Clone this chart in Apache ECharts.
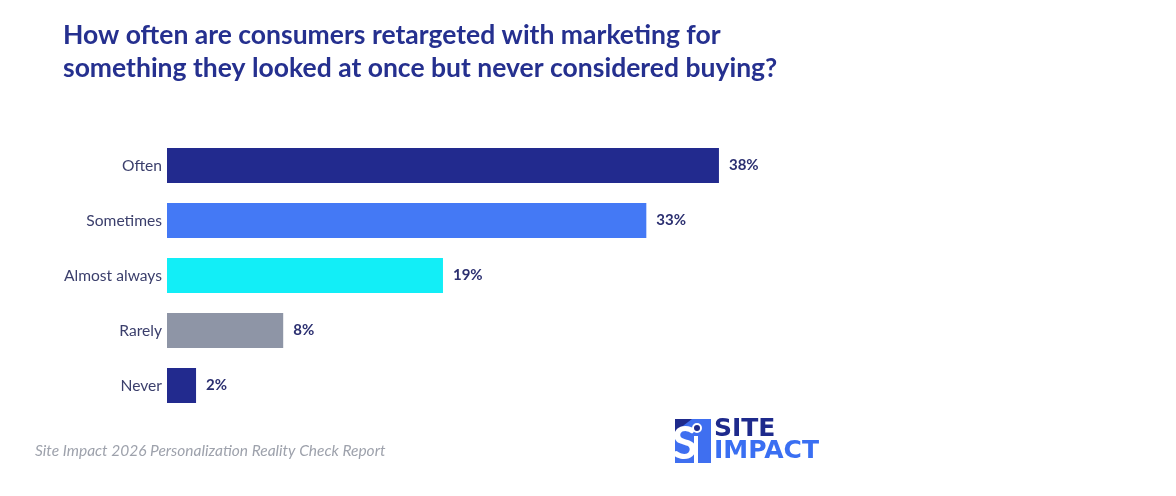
<!DOCTYPE html>
<html>
<head>
<meta charset="utf-8">
<script src="https://cdn.jsdelivr.net/npm/echarts@6/dist/echarts.min.js"></script>
<style>
  html, body { margin: 0; padding: 0; background: #fff; }
  #chart { width: 1176px; height: 496px; }
</style>
</head>
<body>
<div id="chart"></div>
<script>
var categories = ['Often', 'Sometimes', 'Almost always', 'Rarely', 'Never'];
var values = [38, 33, 19, 8, 2];
var barColors = ['#222a8e', '#4479f5', '#12eef7', '#8e95a6', '#222a8e'];

var chart = echarts.init(document.getElementById('chart'));

var option = {
  backgroundColor: '#ffffff',
  title: {
    text: 'How often are consumers retargeted with marketing for\nsomething they looked at once but never considered buying?',
    left: 63,
    top: 19,
    padding: 0,
    textStyle: {
      fontFamily: 'Lato',
      fontWeight: 'bold',
      fontSize: 26.5,
      lineHeight: 33,
      color: '#25308f'
    }
  },
  grid: {
    left: 167,
    right: 428,
    top: 138,
    height: 275
  },
  xAxis: {
    type: 'value',
    min: 0,
    max: 40,
    show: false
  },
  yAxis: {
    type: 'category',
    inverse: true,
    data: categories,
    axisLine: { show: false },
    axisTick: { show: false },
    axisLabel: {
      margin: 5,
      fontFamily: 'Lato',
      fontSize: 15.6,
      color: '#3b3f6c'
    }
  },
  series: [{
    type: 'bar',
    barWidth: 35,
    data: values.map(function (v, i) {
      return { value: v, itemStyle: { color: barColors[i] } };
    }),
    label: {
      show: true,
      position: 'right',
      distance: 10,
      formatter: '{c}%',
      fontFamily: 'Lato',
      fontWeight: 'bold',
      fontSize: 15,
      color: '#2b2f70'
    }
  }],
  graphic: [
    {
      type: 'text',
      left: 35,
      top: 443,
      style: {
        text: 'Site Impact 2026 Personalization Reality Check Report',
        font: 'italic 15.5px Lato',
        fill: '#9ea2ac'
      }
    },
    // logo icon
    {
      type: 'rect',
      shape: { x: 675, y: 419, width: 36, height: 44 },
      style: { fill: '#3f6ff0' }
    },
    {
      type: 'polygon',
      shape: { points: [[675, 419], [692, 419], [675, 432]] },
      style: { fill: '#1e2a8c' }
    },
    {
      type: 'text',
      left: 672,
      top: 421,
      style: {
        text: 'S',
        font: 'bold 46px Lato',
        fill: '#ffffff'
      }
    },
    {
      type: 'rect',
      shape: { x: 694, y: 436, width: 4, height: 27 },
      style: { fill: '#ffffff' }
    },
    {
      type: 'circle',
      shape: { cx: 697, cy: 428, r: 4 },
      style: { fill: '#1e2a8c', stroke: '#ffffff', lineWidth: 2 }
    },
    {
      type: 'text',
      left: 714,
      top: 417,
      style: {
        text: 'SITE',
        font: 'bold 25px "DejaVu Sans"',
        fill: '#1e2a8c'
      }
    },
    {
      type: 'text',
      left: 714,
      top: 439,
      style: {
        text: 'IMPACT',
        font: 'bold 25px "DejaVu Sans"',
        fill: '#3a6ff2'
      }
    }
  ]
};

chart.setOption(option);
</script>
</body>
</html>
